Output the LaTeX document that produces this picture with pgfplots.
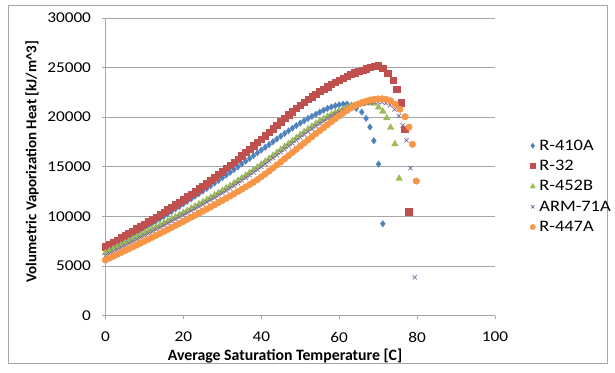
\documentclass[border=0pt]{standalone}
\usepackage{fontspec}
\setmainfont{Carlito}
\newfontfamily\stretchfont{Carlito}[FakeStretch=1.15]
\usepackage{pgfplots}
\pgfplotsset{compat=1.18}
\definecolor{c410}{HTML}{4F81BD}
\definecolor{c32}{HTML}{C0504D}
\definecolor{c452}{HTML}{9BBB59}
\definecolor{c71}{HTML}{8064A2}
\definecolor{c447}{HTML}{F79646}
\definecolor{gridc}{HTML}{A6A6A6}

\pgfplotstableread{
T V
0 6600
1 6815
2 7032
3 7250
4 7470
5 7692
6 7916
7 8142
8 8370
9 8600
10 8832
11 9066
12 9302
13 9540
14 9780
15 10022
16 10266
17 10512
18 10760
19 11010
20 11262
21 11516
22 11772
23 12030
24 12290
25 12552
26 12816
27 13082
28 13350
29 13620
30 13892
31 14166
32 14442
33 14720
34 15000
35 15280
36 15560
37 15840
38 16120
39 16400
40 16680
41 16960
42 17240
43 17520
44 17800
45 18080
46 18355
47 18625
48 18890
49 19150
50 19400
51 19640
52 19870
53 20080
54 20290
55 20500
56 20700
57 20880
58 21030
59 21150
60 21250
61 21310
62 21330
63.2 21200
64.4 20890
65.8 20510
66.9 19880
67.9 19000
68.9 17620
70.1 15270
71.2 9250
}\tblA

\pgfplotstableread{
T V
0 6950
1 7170
2 7390
3 7610
4 7830
5 8050
6 8280
7 8510
8 8740
9 8970
10 9200
11 9440
12 9680
13 9920
14 10160
15 10410
16 10660
17 10910
18 11170
19 11430
20 11690
21 11960
22 12230
23 12500
24 12780
25 13060
26 13340
27 13630
28 13920
29 14220
30 14520
31 14830
32 15140
33 15460
34 15780
35 16110
36 16440
37 16780
38 17120
39 17460
40 17800
41 18150
42 18500
43 18850
44 19200
45 19550
46 19900
47 20240
48 20570
49 20890
50 21200
51 21500
52 21790
53 22070
54 22340
55 22600
56 22850
57 23090
58 23320
59 23540
60 23750
61 23950
62 24140
63 24310
64 24470
65 24620
66 24760
67 24890
68 25010
69 25110
70 25170
71.2 24920
72.5 24415
73.8 23740
74.8 22830
75.9 21450
76.8 18800
77.8 10460
}\tblB

\pgfplotstableread{
T V
0 6300
1 6500
2 6700
3 6900
4 7100
5 7301
6 7502
7 7703
8 7905
9 8107
10 8310
11 8513
12 8717
13 8921
14 9126
15 9331
16 9537
17 9744
18 9952
19 10161
20 10371
21 10582
22 10795
23 11010
24 11228
25 11448
26 11671
27 11897
28 12126
29 12359
30 12596
31 12838
32 13085
33 13337
34 13594
35 13856
36 14123
37 14395
38 14672
39 14954
40 15240
41 15530
42 15824
43 16121
44 16420
45 16720
46 17020
47 17320
48 17620
49 17918
50 18214
51 18506
52 18792
53 19070
54 19338
55 19594
56 19836
57 20062
58 20270
59 20460
60 20630
61 20790
62 20940
63 21080
64 21200
65 21300
66 21380
67 21430
67.8 21440
68.8 21390
70.1 20990
71.2 20585
72.2 19910
73.2 18950
74.3 17290
75.4 13810
}\tblC

\pgfplotstableread{
T V
0 6050
1 6250
2 6450
3 6650
4 6850
5 7051
6 7252
7 7453
8 7655
9 7857
10 8060
11 8263
12 8467
13 8671
14 8876
15 9081
16 9287
17 9494
18 9702
19 9911
20 10121
21 10332
22 10545
23 10760
24 10978
25 11198
26 11421
27 11647
28 11876
29 12109
30 12346
31 12588
32 12835
33 13087
34 13344
35 13606
36 13873
37 14145
38 14422
39 14704
40 14990
41 15280
42 15574
43 15871
44 16170
45 16470
46 16770
47 17070
48 17370
49 17668
50 17964
51 18256
52 18542
53 18820
54 19088
55 19344
56 19600
57 19850
58 20090
59 20315
60 20525
61 20715
62 20885
63 21035
64 21165
65 21275
66 21365
67 21435
68 21485
69 21515
70 21525
71 21500
72 21400
73.1 21200
74.2 20780
75.3 20140
76.3 19170
77.3 17660
78.3 14870
79.4 3850
}\tblD

\pgfplotstableread{
T V
0 5600
1 5785
2 5971
3 6158
4 6346
5 6535
6 6725
7 6916
8 7108
9 7301
10 7495
11 7690
12 7886
13 8083
14 8281
15 8480
16 8680
17 8881
18 9083
19 9286
20 9490
21 9695
22 9901
23 10108
24 10316
25 10525
26 10736
27 10949
28 11164
29 11381
30 11600
31 11821
32 12044
33 12270
34 12499
35 12731
36 12967
37 13207
38 13452
39 13702
40 13985
41 14270
42 14565
43 14868
44 15178
45 15492
46 15808
47 16125
48 16442
49 16759
50 17076
51 17393
52 17709
53 18023
54 18334
55 18640
56 18945
57 19248
58 19548
59 19845
60 20135
61 20415
62 20680
63 20925
64 21145
65 21335
66 21495
67 21625
68 21725
69 21795
70 21835
71 21850
72 21800
73.2 21650
74.4 21300
75.6 20800
76.9 20040
77.9 19000
78.8 17260
79.8 13560
}\tblE

\begin{document}
\begin{tikzpicture}
\useasboundingbox (0bp,0bp) rectangle (615bp,373bp);
\fill[white] (0bp,0bp) rectangle (615bp,373bp);
\draw[gridc, line width=0.8bp] (8bp,9.5bp) rectangle (607bp,368bp);
\begin{axis}[
  at={(105.5bp,57.5bp)}, anchor=south west,
  scale only axis, width=389.5bp, height=297.5bp,
  xmin=0, xmax=100, ymin=0, ymax=30000,
  xtick={0,20,...,100}, ytick={0,5000,...,30000},
  axis x line*=bottom, axis y line*=left,
  axis line style={draw=gridc, line width=0.8bp},
  ymajorgrids, grid style={gridc, line width=0.8bp},
  tick align=outside, major tick length=4bp,
  tick style={gridc, line width=0.8bp},
  scaled y ticks=false,
  /pgf/number format/assume math mode=true,
  yticklabel style={/pgf/number format/.cd, fixed, set thousands separator={}, /tikz/.cd, xshift=-7bp},
  xticklabel style={yshift=-9bp},
  ticklabel style={font=\stretchfont\fontsize{15bp}{18bp}\selectfont, text=black},
  xlabel={Average Saturation Temperature [C]},
  ylabel={Volumetric Vaporization Heat [kJ/m\textasciicircum3]},
  xlabel style={font=\bfseries\fontsize{15.8bp}{18bp}\selectfont, at={(axis description cs:0.461,0)}, anchor=north, inner sep=0pt, yshift=-33bp},
  ylabel style={font=\bfseries\fontsize{15bp}{18bp}\selectfont, at={(axis description cs:-0.1887,0.5176)}, anchor=center, inner sep=0pt},
  legend style={at={(1.082,0.434)}, anchor=west, draw=none, fill=none,
    font=\stretchfont\fontsize{16bp}{19bp}\selectfont, row sep=4.5bp,
    nodes={inner xsep=4bp}},
  legend image code/.code={\draw[mark repeat=2,mark phase=2,#1,mark options={scale=0.8}] plot coordinates {(0cm,0cm)(0.38cm,0cm)(0.45cm,0cm)};},
  legend cell align=left,
  clip=false,
]
\addplot[only marks, mark=diamond*, mark size=3.2bp, color=c410] table {\tblA};
\addlegendentry{R-410A}
\addplot[only marks, mark=square*, mark size=3.2bp, color=c32] table {\tblB};
\addlegendentry{R-32}
\addplot[only marks, mark=triangle*, mark size=3.8bp, color=c452] table {\tblC};
\addlegendentry{R-452B}
\addplot[only marks, mark=x, mark size=3bp, color=c71, line width=0.7bp] table {\tblD};
\addlegendentry{ARM-71A}
\addplot[only marks, mark=*, mark size=3.3bp, color=c447] table {\tblE};
\addlegendentry{R-447A}
\end{axis}
\end{tikzpicture}
\end{document}
